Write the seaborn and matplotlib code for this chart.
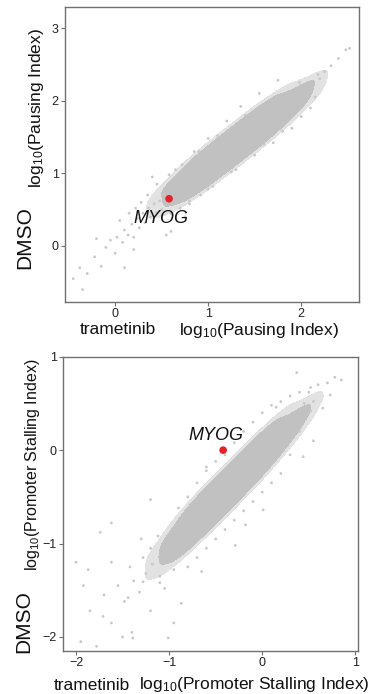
import numpy as np
import pandas as pd
import matplotlib
matplotlib.use("Agg")
import matplotlib.pyplot as plt
from matplotlib.colors import ListedColormap
import seaborn as sns

# ---- top panel: pausing index ----
pause_core_x = [0.55, 0.55, 0.55,
                0.65, 0.65, 0.65,
                0.75, 0.75, 0.75, 0.75, 0.75,
                0.85, 0.85, 0.85, 0.85, 0.85,
                0.95, 0.95, 0.95, 0.95, 0.95,
                1.05, 1.05, 1.05, 1.05, 1.05,
                1.15, 1.15, 1.15, 1.15, 1.15,
                1.25, 1.25, 1.25, 1.25, 1.25,
                1.35, 1.35, 1.35, 1.35, 1.35,
                1.45, 1.45, 1.45, 1.45, 1.45,
                1.55, 1.55, 1.55, 1.55, 1.55,
                1.65, 1.65, 1.65, 1.65, 1.65,
                1.75, 1.75, 1.75, 1.75, 1.75,
                1.85, 1.85, 1.85, 1.85,
                1.95, 1.95, 1.95, 1.95,
                2.05, 2.05, 2.05]
pause_core_y = [0.58, 0.70, 0.80,
                0.62, 0.75, 0.88,
                0.66, 0.78, 0.88, 0.98, 1.06,
                0.74, 0.86, 0.96, 1.07, 1.17,
                0.82, 0.94, 1.05, 1.16, 1.28,
                0.92, 1.03, 1.15, 1.27, 1.38,
                1.02, 1.13, 1.25, 1.37, 1.48,
                1.12, 1.23, 1.35, 1.47, 1.58,
                1.22, 1.33, 1.45, 1.57, 1.68,
                1.31, 1.43, 1.54, 1.66, 1.78,
                1.42, 1.53, 1.65, 1.76, 1.88,
                1.52, 1.63, 1.75, 1.86, 1.97,
                1.63, 1.74, 1.85, 1.95, 2.05,
                1.75, 1.85, 1.95, 2.04,
                1.87, 1.97, 2.06, 2.13,
                2.02, 2.12, 2.20]
pause_sparse_x = [-0.45, -0.38, -0.30, -0.22, -0.15, -0.10, -0.05, 0.00, 0.02, 0.08,
                  0.10, 0.14, 0.18, 0.20, 0.24, 0.26, 0.30, 0.32, 0.36, 0.38,
                  0.42, 0.44, 0.48, 0.50, 0.52, 0.35, 0.28, 0.22, 0.15, 0.05,
                  0.45, 0.40, 0.60, 0.70, 0.80, 0.92, 1.05, 0.65, 0.58, 0.85,
                  1.00, 1.20, 1.35, 1.55, 1.75, 1.30, 1.50, 1.70, 1.90, 2.10,
                  2.15, 2.20, 2.25, 2.32, 2.40, 2.48, 2.52, 2.18, 1.98, 0.75,
                  0.60, 0.20, -0.20, 0.10, -0.35, 0.55, 0.72, 0.90, 1.10, 1.40,
                  1.60, 1.80, 2.00, 0.80, 1.00, 1.25]
pause_sparse_y = [-0.45, -0.30, -0.38, -0.15, -0.28, -0.02, 0.08, -0.10, 0.12, 0.05,
                  0.22, 0.15, 0.30, 0.12, 0.38, 0.25, 0.45, 0.32, 0.52, 0.40,
                  0.58, 0.46, 0.62, 0.50, 0.72, 0.70, 0.60, 0.52, 0.45, 0.35,
                  0.85, 0.95, 0.45, 0.52, 0.62, 0.70, 0.82, 1.05, 0.98, 1.30,
                  1.48, 1.72, 1.92, 2.10, 2.28, 1.05, 1.25, 1.42, 1.62, 1.90,
                  2.05, 2.30, 2.40, 2.48, 2.58, 2.70, 2.72, 2.36, 2.25, 0.40,
                  0.20, -0.05, 0.10, -0.30, -0.60, 0.15, 1.12, 1.30, 1.52, 1.80,
                  1.40, 1.58, 1.78, 0.58, 0.78, 1.02]
pause_myog = (0.58, 0.65)

# ---- bottom panel: promoter stalling index ----
stall_core_x = [-1.05, -1.05, -1.05,
                -0.95, -0.95, -0.95, -0.95,
                -0.85, -0.85, -0.85, -0.85, -0.85,
                -0.75, -0.75, -0.75, -0.75, -0.75,
                -0.65, -0.65, -0.65, -0.65, -0.65,
                -0.55, -0.55, -0.55, -0.55, -0.55,
                -0.45, -0.45, -0.45, -0.45, -0.45,
                -0.35, -0.35, -0.35, -0.35, -0.35,
                -0.25, -0.25, -0.25, -0.25, -0.25,
                -0.15, -0.15, -0.15, -0.15, -0.15,
                -0.05, -0.05, -0.05, -0.05, -0.05,
                0.05, 0.05, 0.05, 0.05, 0.05,
                0.15, 0.15, 0.15, 0.15, 0.15,
                0.25, 0.25, 0.25, 0.25,
                0.35, 0.35, 0.35,
                0.42, 0.42]
stall_core_y = [-1.18, -1.08, -0.98,
                -1.15, -1.05, -0.97, -0.88,
                -1.08, -0.98, -0.89, -0.80, -0.70,
                -0.99, -0.89, -0.79, -0.69, -0.59,
                -0.89, -0.79, -0.69, -0.59, -0.49,
                -0.79, -0.69, -0.59, -0.49, -0.39,
                -0.69, -0.59, -0.49, -0.39, -0.29,
                -0.59, -0.49, -0.39, -0.29, -0.19,
                -0.49, -0.39, -0.29, -0.19, -0.09,
                -0.39, -0.29, -0.19, -0.09, 0.01,
                -0.29, -0.19, -0.09, 0.01, 0.11,
                -0.18, -0.08, 0.01, 0.10, 0.20,
                -0.06, 0.04, 0.12, 0.21, 0.30,
                0.06, 0.15, 0.23, 0.31,
                0.19, 0.27, 0.35,
                0.32, 0.40]
stall_sparse_x = [-1.95, -1.85, -1.78, -1.70, -1.62, -1.55, -1.50, -1.48, -1.42, -1.38,
                  -1.32, -1.28, -1.25, -1.20, -1.18, -1.12, -1.10, -1.05, -1.30, -1.62,
                  -1.92, -0.95, -0.90, -0.80, -0.70, -0.60, -0.50, -0.40, -0.30, -0.20,
                  -0.10, 0.00, 0.10, 0.20, 0.30, 0.40, 0.50, 0.55, 0.60, 0.70,
                  0.78, 0.85, 0.45, 0.52, 0.40, 0.30, 0.20, 0.10, 0.00, -0.10,
                  -0.20, -0.30, -0.40, -0.50, -0.60, -0.70, -0.80, -0.65, 0.55, 0.65,
                  -1.40, -1.20, -0.95, -2.00, -1.87, -1.74, -1.62, -1.71, -1.39, -1.01,
                  -0.87, -1.28, -1.44, -1.10, -0.18, 0.01, -0.29, 0.73, 0.52, 0.37,
                  0.15, 0.44, -1.20, -0.60]
stall_sparse_y = [-2.05, -1.72, -2.10, -1.55, -1.85, -1.45, -2.00, -1.62, -1.25, -1.40,
                  -1.52, -1.15, -1.32, -1.05, -1.22, -0.92, -1.35, -1.48, -0.95, -1.20,
                  -1.45, -1.28, -0.62, -0.50, -0.35, -0.22, -0.12, -0.05, 0.08, 0.20,
                  0.30, 0.40, 0.48, 0.52, 0.58, 0.62, 0.62, 0.52, 0.70, 0.72,
                  0.78, 0.75, 0.50, 0.42, 0.20, -0.05, -0.25, -0.35, -0.45, -0.55,
                  -0.65, -0.75, -0.85, -0.95, -1.05, -1.15, -1.25, -1.30, 0.10, 0.45,
                  -1.95, -1.72, -1.85, -1.20, -1.28, -0.88, -0.78, -1.78, -2.01, -2.01,
                  -1.64, -1.41, -1.58, -1.42, -0.80, -0.64, -1.02, 0.59, 0.67, 0.83,
                  0.46, -0.07, -0.53, -0.18]
stall_myog = (-0.42, 0.0)

sns.set_theme(style="white")
plt.rcParams["font.family"] = ["Liberation Sans", "DejaVu Sans"]
plt.rcParams["mathtext.fontset"] = "custom"
plt.rcParams["mathtext.rm"] = "Liberation Sans"
plt.rcParams["mathtext.it"] = "Liberation Sans:italic"

fig = plt.figure(figsize=(3.75, 6.94), dpi=100)
ax1 = fig.add_axes([0.173, 0.565, 0.784, 0.425])
ax2 = fig.add_axes([0.168, 0.062, 0.787, 0.424])


def draw_panel(ax, core_x, core_y, sparse_x, sparse_y, myog, label_xy):
    core = pd.DataFrame({"x": core_x, "y": core_y})
    # thin speckled fringe round the cloud, then the dense core
    sns.kdeplot(data=core, x="x", y="y", ax=ax, fill=True, levels=[0.05, 1],
                bw_adjust=0.85, cmap=ListedColormap(["#e2e2e2"]))
    sns.kdeplot(data=core, x="x", y="y", ax=ax, fill=True, levels=[0.16, 1],
                bw_adjust=0.8, cmap=ListedColormap(["#c1c1c1"]))
    sns.scatterplot(x=sparse_x, y=sparse_y, ax=ax, s=4, color="#c8c8c8",
                    edgecolor="none")
    sns.scatterplot(x=[myog[0]], y=[myog[1]], ax=ax, s=30, color="#e8202a",
                    edgecolor="none", zorder=5)
    ax.text(label_xy[0], label_xy[1], "MYOG", style="italic", fontsize=13,
            ha="center", va="center", color="#111111")
    ax.set_xlabel("")
    ax.set_ylabel("")
    for sp in ax.spines.values():
        sp.set_color("#707070")
        sp.set_linewidth(1.0)
    ax.tick_params(direction="out", length=3, width=0.8, colors="#707070",
                   labelcolor="#222222", labelsize=9, pad=1.5,
                   bottom=True, left=True)


draw_panel(ax1, pause_core_x, pause_core_y, pause_sparse_x, pause_sparse_y,
           pause_myog, (0.49, 0.38))
ax1.set_xlim(-0.54, 2.62)
ax1.set_ylim(-0.77, 3.29)
ax1.set_xticks([0, 1, 2])
ax1.set_yticks([0, 1, 2, 3])

draw_panel(ax2, stall_core_x, stall_core_y, stall_sparse_x, stall_sparse_y,
           stall_myog, (-0.5, 0.16))
ax2.set_xlim(-2.14, 1.03)
ax2.set_ylim(-2.15, 1.0)
ax2.set_xticks([-2, -1, 0, 1])
ax2.set_yticks([-2, -1, 0, 1])

W, H = 375.0, 694.0


def ftext(px, py, s, size, rot=0):
    fig.text(px / W, 1 - py / H, s, fontsize=size, rotation=rot,
             ha="center", va="center", color="#111111")


ftext(25, 238, "DMSO", 15, 90)
ftext(37, 108, r"log$_{10}$(Pausing Index)", 12.5, 90)
ftext(118, 330, "trametinib", 12.5)
ftext(259, 330, r"log$_{10}$(Pausing Index)", 12.5)

ftext(24, 622, "DMSO", 15, 90)
ftext(33, 465, r"log$_{10}$(Promoter Stalling Index)", 11.5, 90)
ftext(92, 685, "trametinib", 12.5)
ftext(254, 685, r"log$_{10}$(Promoter Stalling Index)", 12.5)

fig.savefig("out.png", dpi=100)
